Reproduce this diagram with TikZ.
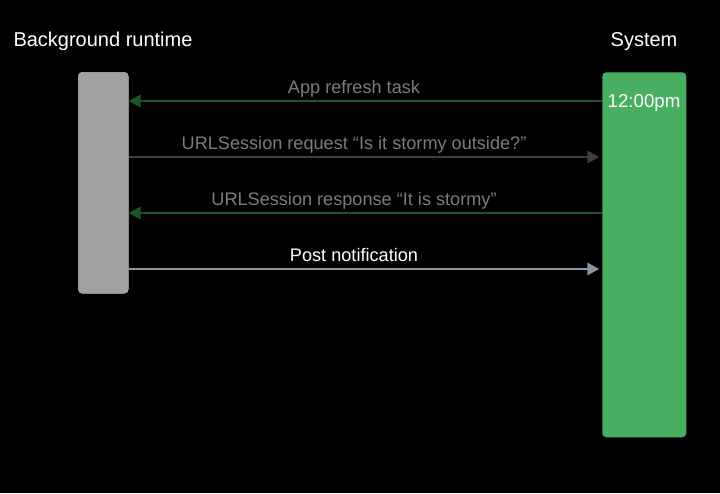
\documentclass[tikz,border=0pt]{standalone}
\usepackage{fontspec}
\setmainfont{Liberation Sans}
\usepackage{xcolor}
\usetikzlibrary{arrows.meta,positioning,calc}

\definecolor{bggrey}{HTML}{A0A0A0}
\definecolor{sysgreen}{HTML}{47AF5F}
\definecolor{darkgreen}{HTML}{1F5229}
\definecolor{darkline}{HTML}{3E3E3E}
\definecolor{postline}{HTML}{8B95A0}
\definecolor{msggrey}{HTML}{7C7C7C}

\begin{document}
\begin{tikzpicture}[
    x=0.75pt, y=-0.75pt,
    lifeline/.style={rectangle, rounded corners=3pt, inner sep=0pt, anchor=north west},
    title/.style={text=white, font=\fontsize{15}{17}\selectfont, anchor=base},
    msg/.style={text=msggrey, font=\fontsize{13.6}{15}\selectfont, anchor=base},
    arrow/.style={-{Triangle[length=9pt, width=9pt]}, line width=2.2pt}
]

% background
\fill[black] (0,0) rectangle (720,493);
\useasboundingbox (0,0) rectangle (720,493);

% Lifelines
\node[lifeline, fill=bggrey, draw=bggrey!80!white, minimum width=37.5pt, minimum height=165.75pt] (runtime) at (78,72) {};
\node[lifeline, fill=sysgreen, minimum width=63pt, minimum height=273.75pt] (system) at (602,72) {};

% Titles
\node[title] (runtimetitle) at (103,46) {Background runtime};
\node[title] (systemtitle) at (644,46) {System};
\node[title, font=\fontsize{14}{16}\selectfont] (clock) at (644,107) {12:00pm};

% Messages
\node[msg] (refresh) at (354,93) {App refresh task};
\node[msg] (request) at (354,149) {URLSession request “Is it stormy outside?”};
\node[msg] (response) at (354,205) {URLSession response “It is stormy”};
\node[msg, text=white] (post) at (354,261) {Post notification};

% Message levels
\coordinate (lvlA) at (354,101);
\coordinate (lvlB) at (354,157);
\coordinate (lvlC) at (354,213);
\coordinate (lvlD) at (354,269);

% Arrows
\draw[arrow, darkgreen] (system.west |- lvlA) -- (runtime.east |- lvlA);
\draw[arrow, darkline] (runtime.east |- lvlB) -- ([xshift=-2pt]system.west |- lvlB);
\draw[arrow, darkgreen] (system.west |- lvlC) -- (runtime.east |- lvlC);
\draw[arrow, postline] (runtime.east |- lvlD) -- ([xshift=-2pt]system.west |- lvlD);

\end{tikzpicture}
\end{document}
